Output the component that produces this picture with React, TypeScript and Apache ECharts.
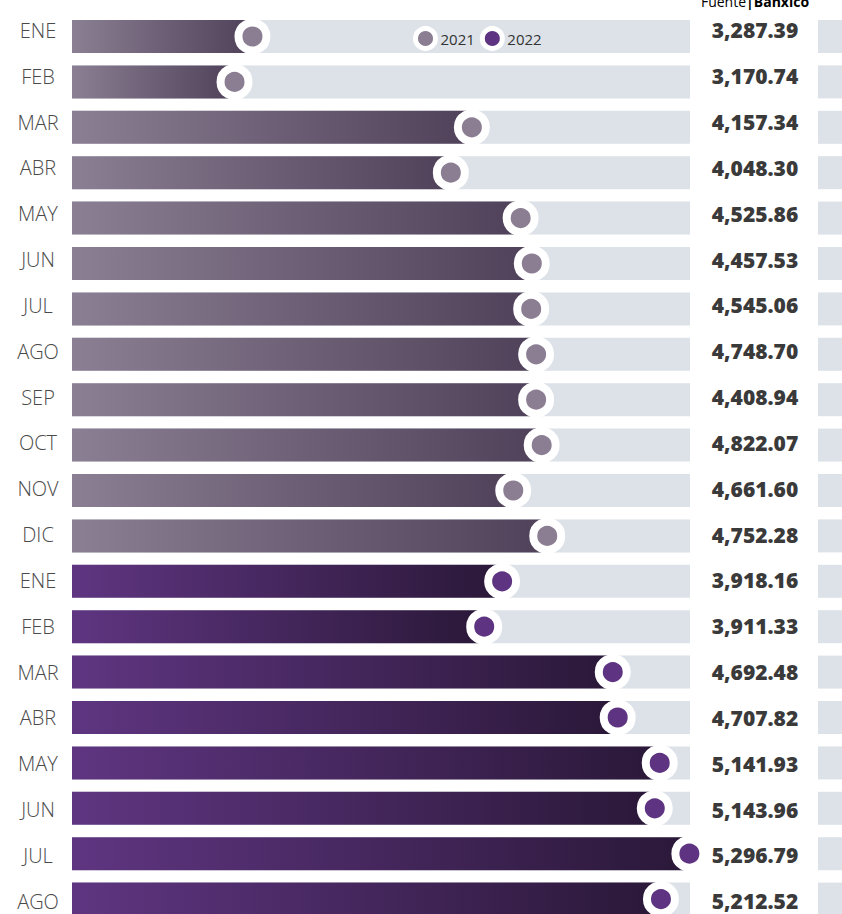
import React, { useEffect, useRef } from "react";
import * as echarts from "echarts";

const months = ["ENE","FEB","MAR","ABR","MAY","JUN","JUL","AGO","SEP","OCT","NOV","DIC","ENE","FEB","MAR","ABR","MAY","JUN","JUL","AGO"];
const years = ["2021","2021","2021","2021","2021","2021","2021","2021","2021","2021","2021","2021","2022","2022","2022","2022","2022","2022","2022","2022"];
const reportedValues = [3287.39,3170.74,4157.34,4048.30,4525.86,4457.53,4545.06,4748.70,4408.94,4822.07,4661.60,4752.28,3918.16,3911.33,4692.48,4707.82,5141.93,5143.96,5296.79,5212.52];
// Bar length as drawn in the source graphic (percent of the track)
const barShare = [29.2,26.3,64.7,61.3,72.6,74.4,74.3,75.1,75.1,76.0,71.4,76.9,69.6,66.7,87.5,88.3,95.1,94.3,99.9,95.3];
const legendNames = ["2021","2022"];

const TRACK = "#dce2e8";
const COLORS: Record<string, { dot: string; from: string; to: string }> = {
  "2021": { dot: "#8b7e93", from: "#8b7f93", to: "#4f4159" },
  "2022": { dot: "#5e3482", from: "#5f3581", to: "#2a1838" },
};
const FONT = "'Open Sans', 'Noto Sans', sans-serif";

export default function App() {
  const ref = useRef<HTMLDivElement>(null);
  useEffect(() => {
    document.body.style.margin = "0";
    const chart = echarts.init(ref.current!, undefined, { renderer: "svg" });
    const fmt = (v: number) => v.toLocaleString("en-US", { minimumFractionDigits: 2, maximumFractionDigits: 2 });
    const top = 13.8;
    const height = 908;
    const barW = 33;
    const scatterFor = (y: string) => ({
      type: "scatter",
      name: y,
      xAxisIndex: 0,
      yAxisIndex: 0,
      symbol: "circle",
      symbolSize: 28,
      z: 5,
      itemStyle: { color: COLORS[y].dot, borderColor: "#fff", borderWidth: 8, opacity: 1 },
      data: barShare.map((v, i) => (years[i] === y ? [v, i] : null)).filter((d) => d !== null),
    });
    chart.setOption({
      animation: false,
      grid: [
        { left: 72, width: 618, top, height },
        { left: 818, width: 40, top, height },
        { left: 72, width: 618, top: 7.4, height: 916.8 },
      ],
      xAxis: [
        { type: "value", gridIndex: 0, min: 0, max: 100, show: false },
        { type: "value", gridIndex: 1, min: 0, max: 1, show: false },
        { type: "value", gridIndex: 2, min: 0, max: 1, show: false },
      ],
      yAxis: [
        { type: "category", gridIndex: 0, data: months, inverse: true, show: false },
        { type: "category", gridIndex: 1, data: months, inverse: true, show: false },
        {
          type: "category", gridIndex: 2, data: months, inverse: true,
          axisLine: { show: false }, axisTick: { show: false }, splitLine: { show: false },
          axisLabel: { margin: 34, align: "center", fontSize: 20, color: "#4a4a4a", fontFamily: FONT, fontWeight: 300 },
        },
        {
          type: "category", gridIndex: 2, position: "right", data: reportedValues.map(fmt), inverse: true,
          axisLine: { show: false }, axisTick: { show: false }, splitLine: { show: false },
          axisLabel: { margin: 65, align: "center", fontSize: 21, color: "#3a3a3a", fontFamily: FONT, fontWeight: 800 },
        },
      ],
      legend: {
        data: legendNames,
        icon: "circle",
        left: 413,
        top: 26,
        padding: 0,
        itemWidth: 20,
        itemHeight: 20,
        itemGap: 5,
        itemStyle: { borderWidth: 5, borderColor: "#fff" },
        textStyle: { fontSize: 15, color: "#333", fontFamily: FONT },
        selectedMode: false,
      },
      graphic: [
        {
          type: "text",
          x: 755,
          y: 8,
          style: {
            text: "{a|Fuente}{b||}{c|Banxico}",
            align: "center",
            verticalAlign: "bottom",
            rich: {
              a: { fontSize: 14, color: "#555", fontFamily: FONT },
              b: { fontSize: 14, color: "#6a3d9a", fontFamily: FONT, fontWeight: "bold" },
              c: { fontSize: 14, color: "#333", fontFamily: FONT, fontWeight: "bold" },
            },
          },
        },
      ],
      series: [
        {
          type: "bar", name: "track", xAxisIndex: 0, yAxisIndex: 0, silent: true,
          barWidth: barW, barGap: "-100%", z: 1,
          itemStyle: { color: TRACK },
          data: months.map(() => 100),
        },
        {
          type: "bar", name: "value", xAxisIndex: 0, yAxisIndex: 0, silent: true,
          barWidth: barW, barGap: "-100%", z: 2,
          data: barShare.map((v, i) => ({
            value: v,
            itemStyle: {
              color: new echarts.graphic.LinearGradient(0, 0, 1, 0, [
                { offset: 0, color: COLORS[years[i]].from },
                { offset: 1, color: COLORS[years[i]].to },
              ]),
            },
          })),
        },
        scatterFor("2021"),
        scatterFor("2022"),
        {
          type: "bar", name: "side", xAxisIndex: 1, yAxisIndex: 1, silent: true,
          barWidth: barW, itemStyle: { color: TRACK },
          data: months.map(() => 1),
        },
      ],
    });
    return () => chart.dispose();
  }, []);
  return (
    <div style={{ width: 842, height: 914, overflow: "hidden" }}>
      <div ref={ref} style={{ width: 842, height: 940 }} />
    </div>
  );
}
